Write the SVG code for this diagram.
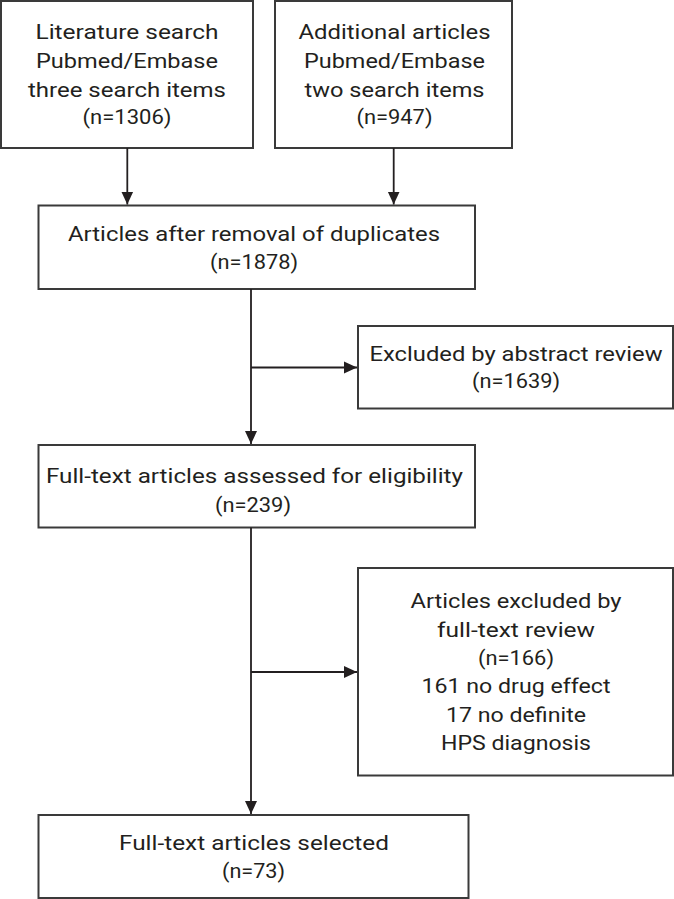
<svg xmlns="http://www.w3.org/2000/svg" width="674" height="899" viewBox="0 0 674 899">
<style>
.box{fill:#fff;stroke:#3a3a3a;stroke-width:2}
.t{font-family:Roboto,"Liberation Sans",sans-serif;font-size:21px;fill:#231f20;text-anchor:middle}
.c{fill:none;stroke:#231f20;stroke-width:1.8}
</style>
<defs>
<marker id="ah" markerUnits="userSpaceOnUse" markerWidth="14" markerHeight="14" viewBox="0 0 14 14" refX="13" refY="7" orient="auto">
<path d="M0,1 L13,7 L0,13 Z" fill="#231f20"/>
</marker>
</defs>
<rect width="674" height="899" fill="#fff"/>
<g id="n1">
<rect class="box" x="1" y="1" width="252" height="147"/>
<text class="t" x="127" y="39" textLength="183" lengthAdjust="spacingAndGlyphs">Literature search</text>
<text class="t" x="127" y="68" textLength="182" lengthAdjust="spacingAndGlyphs">Pubmed/Embase</text>
<text class="t" x="127" y="96.5" textLength="198" lengthAdjust="spacingAndGlyphs">three search items</text>
<text class="t" x="127" y="124" textLength="89" lengthAdjust="spacingAndGlyphs">(n=1306)</text>
</g>
<g id="n2">
<rect class="box" x="275" y="1" width="237" height="147"/>
<text class="t" x="394.5" y="39" textLength="192" lengthAdjust="spacingAndGlyphs">Additional articles</text>
<text class="t" x="394.5" y="68" textLength="181" lengthAdjust="spacingAndGlyphs">Pubmed/Embase</text>
<text class="t" x="394.5" y="96.5" textLength="180" lengthAdjust="spacingAndGlyphs">two search items</text>
<text class="t" x="394.5" y="124" textLength="76" lengthAdjust="spacingAndGlyphs">(n=947)</text>
</g>
<g id="n3">
<rect class="box" x="38.5" y="205.5" width="436.5" height="83.5"/>
<text class="t" x="254" y="240.5" textLength="372" lengthAdjust="spacingAndGlyphs">Articles after removal of duplicates</text>
<text class="t" x="254" y="268.5" textLength="88" lengthAdjust="spacingAndGlyphs">(n=1878)</text>
</g>
<g id="n4">
<rect class="box" x="358" y="326" width="315" height="82.5"/>
<text class="t" x="516" y="360.5" textLength="293" lengthAdjust="spacingAndGlyphs">Excluded by abstract review</text>
<text class="t" x="516" y="388" textLength="88" lengthAdjust="spacingAndGlyphs">(n=1639)</text>
</g>
<g id="n5">
<rect class="box" x="38.5" y="445" width="436.5" height="82.5"/>
<text class="t" x="254.5" y="483" textLength="417" lengthAdjust="spacingAndGlyphs">Full-text articles assessed for eligibility</text>
<text class="t" x="253" y="511.5" textLength="76" lengthAdjust="spacingAndGlyphs">(n=239)</text>
</g>
<g id="n6">
<rect class="box" x="358" y="568" width="315" height="207.5"/>
<text class="t" x="516" y="608" textLength="211" lengthAdjust="spacingAndGlyphs">Articles excluded by</text>
<text class="t" x="516" y="636.5" textLength="158" lengthAdjust="spacingAndGlyphs">full-text review</text>
<text class="t" x="516" y="664.5" textLength="76" lengthAdjust="spacingAndGlyphs">(n=166)</text>
<text class="t" x="516" y="693" textLength="189" lengthAdjust="spacingAndGlyphs">161 no drug effect</text>
<text class="t" x="516" y="721.5" textLength="140" lengthAdjust="spacingAndGlyphs">17 no definite</text>
<text class="t" x="516" y="750" textLength="150" lengthAdjust="spacingAndGlyphs">HPS diagnosis</text>
</g>
<g id="n7">
<rect class="box" x="38.5" y="815" width="430" height="83"/>
<text class="t" x="254" y="850" textLength="270" lengthAdjust="spacingAndGlyphs">Full-text articles selected</text>
<text class="t" x="253.5" y="878" textLength="63" lengthAdjust="spacingAndGlyphs">(n=73)</text>
</g>
<g id="connectors">
<path class="c" d="M127.3,148 V204.5" marker-end="url(#ah)"/>
<path class="c" d="M393.7,148 V204.5" marker-end="url(#ah)"/>
<path class="c" d="M251,289 V444" marker-end="url(#ah)"/>
<path class="c" d="M251,367.5 H357" marker-end="url(#ah)"/>
<path class="c" d="M251,527.5 V814" marker-end="url(#ah)"/>
<path class="c" d="M251,672 H357" marker-end="url(#ah)"/>
</g>
</svg>
